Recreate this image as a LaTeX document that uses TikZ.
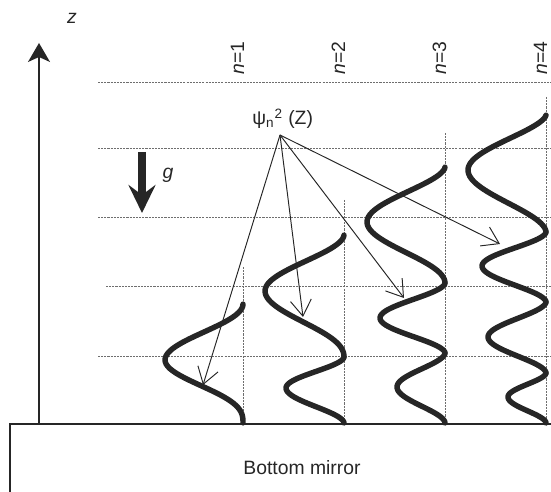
\documentclass[tikz,border=0pt]{standalone}
\usepackage{fontspec}
\setmainfont{Liberation Sans}
\usepackage{xcolor}
\usepackage{tikz}
\usetikzlibrary{arrows.meta}
\definecolor{inkGray}{HTML}{262626}
\definecolor{gridGray}{HTML}{6E6E6E}

% one lobe of psi^2: level x, lower zero y, peak y, upper y, depth, rise power, fall power
\newcommand{\wavelobe}[7]{%
    \draw[wavecurve] plot[domain=0.002:1, samples=30]
        ({#1-#5*pow(sin(90*\x),#6)}, {#2+(#3-#2)*\x})
        -- plot[domain=1:0.002, samples=30]
        ({#1-#5*pow(sin(90*\x),#7)}, {#4+(#3-#4)*\x});
}

\begin{document}
\begin{tikzpicture}[
            x=0.02cm, y=-0.02cm,
            wavecurve/.style={
                draw=inkGray,
                line width=3.1pt,
                line cap=round,
                line join=round
            },
            levelline/.style={
                draw=gridGray,
                line width=0.5pt,
                dash pattern=on 1.2pt off 0.6pt
            },
            mirrorline/.style={
                draw=inkGray,
                line width=0.9pt
            },
            axisarrow/.style={
                -{Stealth[length=0.38cm, width=0.44cm, inset=0.1cm]},
                draw=inkGray,
                line width=0.85pt
            },
            gravityarrow/.style={
                -{Stealth[length=0.56cm, width=0.54cm, inset=0.2cm]},
                draw=inkGray,
                line width=4pt
            },
            pointerarrow/.style={
                -{Straight Barb[length=0.32cm, width=0.42cm]},
                draw=inkGray,
                line width=0.55pt
            },
            plainlabel/.style={
                font=\fontsize{11}{13}\selectfont,
                text=inkGray,
                inner sep=0pt
            },
            levellabel/.style={
                plainlabel,
                rotate=90,
                anchor=base
            }
        ]

        \useasboundingbox (0,0) rectangle (551,492);

        % --- Mirror and height axis ---
        \draw[mirrorline] (551,424) -- (10,424) -- (10,492);
        \node[plainlabel] (mirror) at (302,468) {Bottom mirror};

        \coordinate (zbase) at (39,424);
        \coordinate (ztip) at (39,43);
        \draw[axisarrow] (zbase) -- (ztip);
        \node[plainlabel] (zlabel) at (72,18) {\textit{z}};

        % --- Gravity ---
        \coordinate (gtop) at (142,152);
        \coordinate (gtip) at (142,213);
        \draw[gravityarrow] (gtop) -- (gtip);
        \node[plainlabel] (glabel) at (168,175) {\textit{g}};

        % --- Height levels ---
        \draw[levelline] (98,82) -- (551,82);
        \draw[levelline] (98,148) -- (551,148);
        \draw[levelline] (98,217) -- (551,217);
        \draw[levelline] (106,286) -- (551,286);
        \draw[levelline] (98,356) -- (551,356);

        \draw[levelline] (243,267) -- (243,424);
        \draw[levelline] (344,200) -- (344,424);
        \draw[levelline] (445,133) -- (445,424);
        \draw[levelline] (546,97) -- (546,424);

        \node[levellabel] (n1) at (244,58) {\textit{n}=1};
        \node[levellabel] (n2) at (345,58) {\textit{n}=2};
        \node[levellabel] (n3) at (446,58) {\textit{n}=3};
        \node[levellabel] (n4) at (547,58) {\textit{n}=4};

        % --- Probability densities ---
        \wavelobe{243}{423}{360}{304}{78}{2.8}{2}

        \wavelobe{344}{423}{388}{357}{58}{1.8}{1.8}
        \wavelobe{344}{357}{291}{235}{79}{2.2}{1.8}

        \wavelobe{445}{423}{387}{353}{48}{1.8}{1.8}
        \wavelobe{445}{353}{318}{283}{65}{1.8}{1.8}
        \wavelobe{445}{283}{222}{167}{78}{2}{1.7}

        \wavelobe{546}{423}{397}{373}{38}{1.8}{1.8}
        \wavelobe{546}{373}{337}{302}{58}{1.8}{1.8}
        \wavelobe{546}{302}{266}{232}{64}{1.8}{1.8}
        \wavelobe{546}{232}{170}{115}{78}{1.8}{1.6}

        % --- Density label and pointers ---
        \node[plainlabel, anchor=base west] (psilabel) at (252,125)
            {ψ\textsubscript{n}\textsuperscript{2} (Z)};
        \coordinate (src) at (280,135);

        \coordinate (tip1) at (203,385);
        \coordinate (tip2) at (303,317);
        \coordinate (tip3) at (404,298);
        \coordinate (tip4) at (500,244);

        \draw[pointerarrow] (src) -- (tip1);
        \draw[pointerarrow] (src) -- (tip2);
        \draw[pointerarrow] (src) -- (tip3);
        \draw[pointerarrow] (src) -- (tip4);

        \end{tikzpicture}
\end{document}
